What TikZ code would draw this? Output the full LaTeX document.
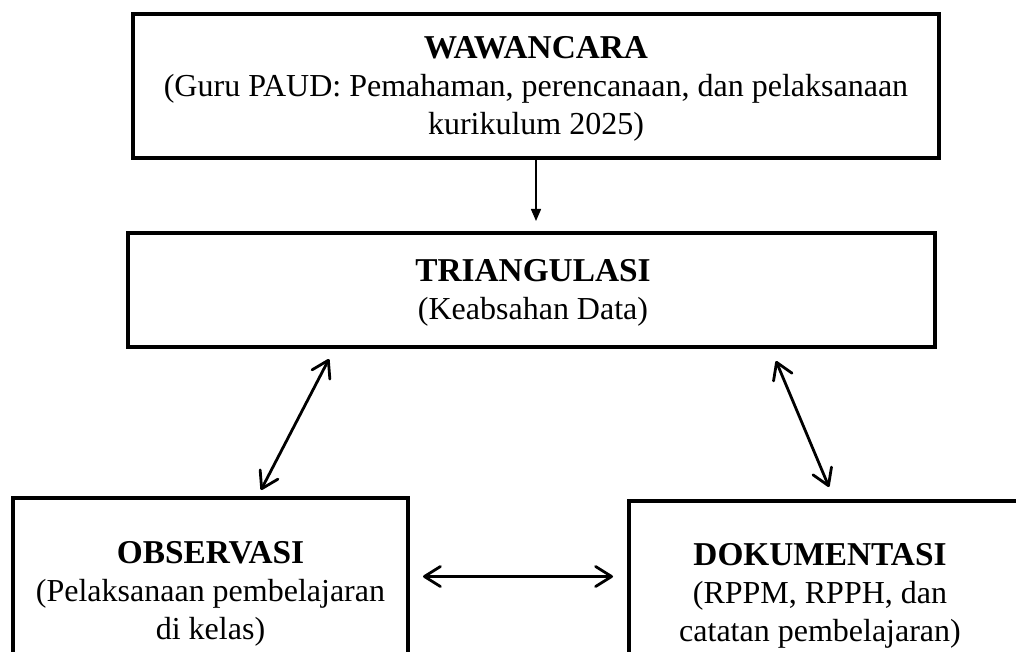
\documentclass[tikz,border=0pt]{standalone}
\usepackage{fontspec}
\setmainfont{Liberation Serif}
\usetikzlibrary{arrows.meta}
\tikzset{mybarb/.tip={Straight Barb[length=12pt,width=15pt,line cap=round,line join=round]}}
\newcommand{\hd}[1]{{\fontsize{25}{28.5}\selectfont\textbf{#1}}}
\begin{document}
\begin{tikzpicture}[x=0.75pt,y=-0.75pt,
  box/.style={draw,line width=3pt,rectangle,inner sep=0pt},
  lbl/.style={align=center,font=\fontsize{24}{28.5}\selectfont,inner sep=0pt},
  dbl/.style={line width=2.1pt,line cap=round,mybarb-mybarb},
  one/.style={line width=1.1pt,-{Triangle[length=9pt,width=7.5pt]}}]
\useasboundingbox (0,0) rectangle (1016,652);
\clip (0,0) rectangle (1016,652);
% boxes
\node[box,minimum width=604.5pt,minimum height=108pt] (waw) at (536,86) {};
\node[box,minimum width=605.25pt,minimum height=85.5pt] (tri) at (531.5,290) {};
\node[box,minimum width=296.25pt,minimum height=151.5pt] (obs) at (210.5,599) {};
\node[box,minimum width=293.25pt,minimum height=149.25pt] (dok) at (824.5,600.5) {};
% texts
\node[lbl] (wawtxt) at (536,88.5)
  {\hd{WAWANCARA}\\(Guru PAUD: Pemahaman, perencanaan, dan pelaksanaan\\kurikulum 2025)};
\node[lbl] (tritxt) at (533,293)
  {\hd{TRIANGULASI}\\(Keabsahan Data)};
\node[lbl] (obstxt) at (210.5,593.5)
  {\hd{OBSERVASI}\\(Pelaksanaan pembelajaran\\di kelas)};
\node[lbl] (doktxt) at (820,596)
  {\hd{DOKUMENTASI}\\(RPPM, RPPH, dan\\catatan pembelajaran)};
% connector end points
\coordinate (a1) at (536,160);
\coordinate (a2) at (536,221);
\coordinate (l1) at (329,359);
\coordinate (l2) at (261,490);
\coordinate (r1) at (776,361);
\coordinate (r2) at (829,487);
\coordinate (h1) at (423,576.5);
\coordinate (h2) at (613,576.5);
% connectors
\draw[one] (a1) -- (a2);
\draw[dbl] (l1) -- (l2);
\draw[dbl] (r1) -- (r2);
\draw[dbl] (h1) -- (h2);
\end{tikzpicture}
\end{document}
